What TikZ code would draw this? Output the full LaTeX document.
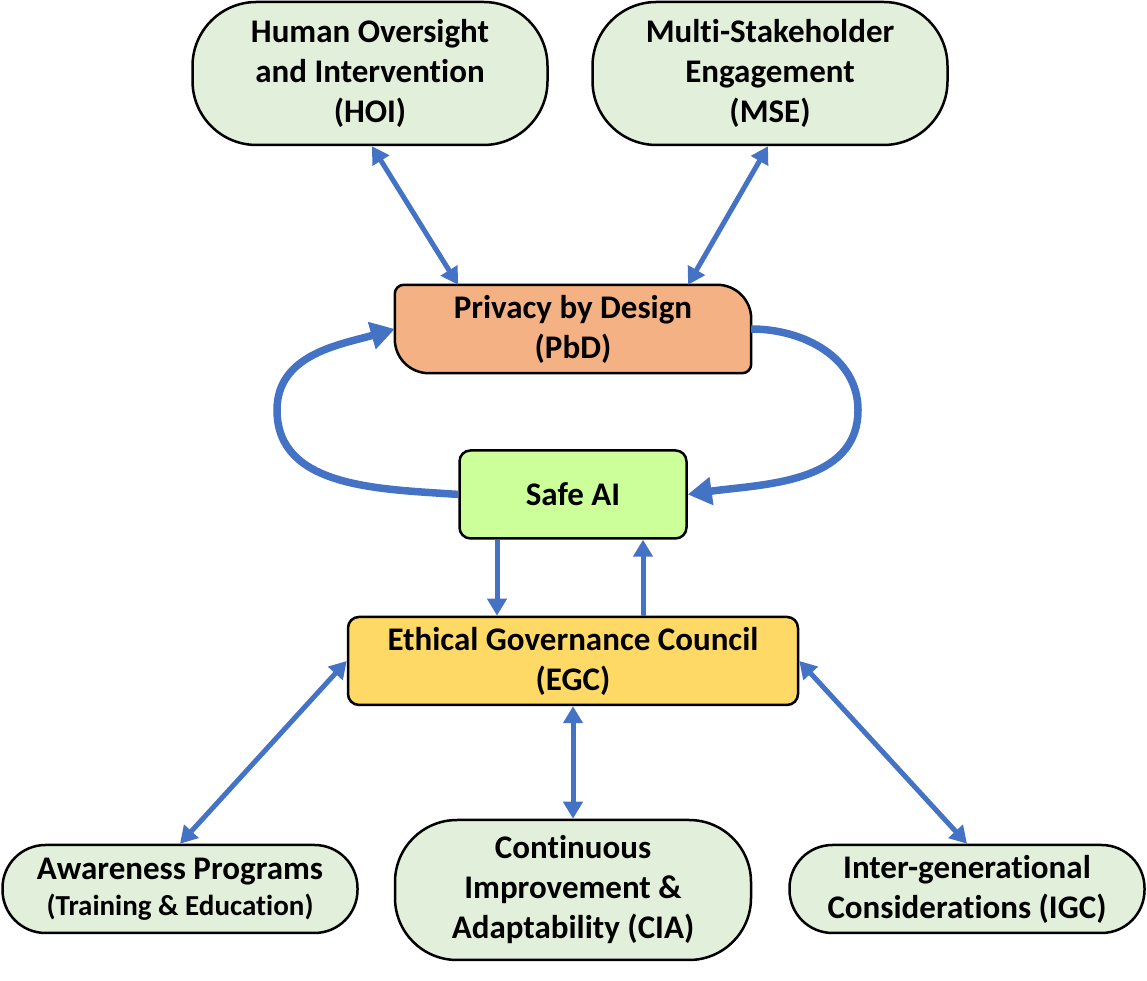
\documentclass[tikz,border=0pt]{standalone}
\usepackage{fontspec}
\setmainfont[Ligatures={NoCommon}]{Carlito}
\usetikzlibrary{arrows.meta, positioning, backgrounds}

\definecolor{ovalgreen}{HTML}{E2EFDA}
\definecolor{pbdorange}{HTML}{F4B183}
\definecolor{safegreen}{HTML}{CCFF99}
\definecolor{egcyellow}{HTML}{FFD966}
\definecolor{linkblue}{HTML}{4472C4}

\begin{document}
\begin{tikzpicture}[
    x=1pt, y=1pt,
    node distance=76pt,
    boxline/.style={draw=black, line width=2.5pt},
    ovalbox/.style={rectangle, boxline, rounded corners=#1, fill=ovalgreen, align=center,
        minimum width=355pt, inner sep=0pt, font=\fontsize{33}{40}\selectfont\bfseries},
    corebox/.style={rectangle, boxline, rounded corners=11pt, fill=#1, align=center,
        minimum height=88pt, inner sep=0pt, font=\fontsize{33}{40}\selectfont\bfseries},
    twoway/.style={{Triangle[length=17pt,width=19pt]}-{Triangle[length=17pt,width=19pt]}, line width=5pt, draw=linkblue},
    oneway/.style={-{Triangle[length=17pt,width=19pt]}, line width=5pt, draw=linkblue},
    loop/.style={-{Triangle[length=24pt,width=27pt]}, line width=7.5pt, draw=linkblue}
]
\useasboundingbox (0,0) rectangle (1147,981);

% Top row
\node[ovalbox=64pt, minimum height=143pt] (hoi) at (370,907.5) {Human Oversight\\and Intervention\\(HOI)};
\node[ovalbox=64pt, minimum height=143pt] (mse) at (770,907.5) {Multi-Stakeholder\\Engagement\\(MSE)};

% Central column
\node[align=center, minimum width=356pt, minimum height=88pt, inner sep=0pt,
      font=\fontsize{33}{40}\selectfont\bfseries] (pbd) at (573,652) {Privacy by Design\\(PbD)};
\node[corebox=safegreen, minimum width=227pt, below=of pbd] (safe) {Safe AI};
\node[corebox=egcyellow, minimum width=450pt, below=of safe] (egc) {Ethical Governance Council\\(EGC)};

% PbD outline (two big and two small corners)
\begin{scope}[on background layer]
    \draw[boxline, fill=pbdorange] ([xshift=9pt]pbd.north west) -- ([xshift=-34pt]pbd.north east)
        arc[start angle=90, end angle=0, radius=34pt] -- ([yshift=9pt]pbd.south east)
        arc[start angle=0, end angle=-90, radius=9pt] -- ([xshift=34pt]pbd.south west)
        arc[start angle=270, end angle=180, radius=34pt] -- ([yshift=-9pt]pbd.north west)
        arc[start angle=180, end angle=90, radius=9pt] -- cycle;
\end{scope}

% Bottom row
\node[ovalbox=43pt, minimum height=88pt] (awp) at (180,92) {Awareness Programs\\[-4pt]{\fontsize{29}{34}\selectfont(Training \& Education)}};
\node[ovalbox=62pt, minimum height=140pt, minimum width=356pt] (cia) at (573,91) {Continuous\\Improvement \&\\Adaptability (CIA)};
\node[ovalbox=43pt, minimum height=88pt] (igc) at (967,92) {Inter-generational\\Considerations (IGC)};

% Links to PbD
\draw[twoway] ([xshift=2pt]hoi.south) -- ([xshift=-115pt]pbd.north);
\draw[twoway] ([xshift=-2pt]mse.south) -- ([xshift=115pt]pbd.north);

% Loop between PbD and Safe AI
\draw[loop] (safe.west) to[out=176, in=270] (277,571) to[out=90, in=196] (pbd.west);
\draw[loop] (pbd.east) to[out=0, in=90] (858,571) to[out=270, in=8] (safe.east);

% Safe AI and EGC
\draw[oneway] ([xshift=-76pt]safe.south) -- ([xshift=-76pt]egc.north);
\draw[oneway] ([xshift=70pt]egc.north) -- ([xshift=70pt]safe.south);

% EGC to bottom row
\draw[twoway] (egc.west) -- (awp.north);
\draw[twoway] (egc.south) -- (cia.north);
\draw[twoway] (egc.east) -- (igc.north);

\end{tikzpicture}
\end{document}
